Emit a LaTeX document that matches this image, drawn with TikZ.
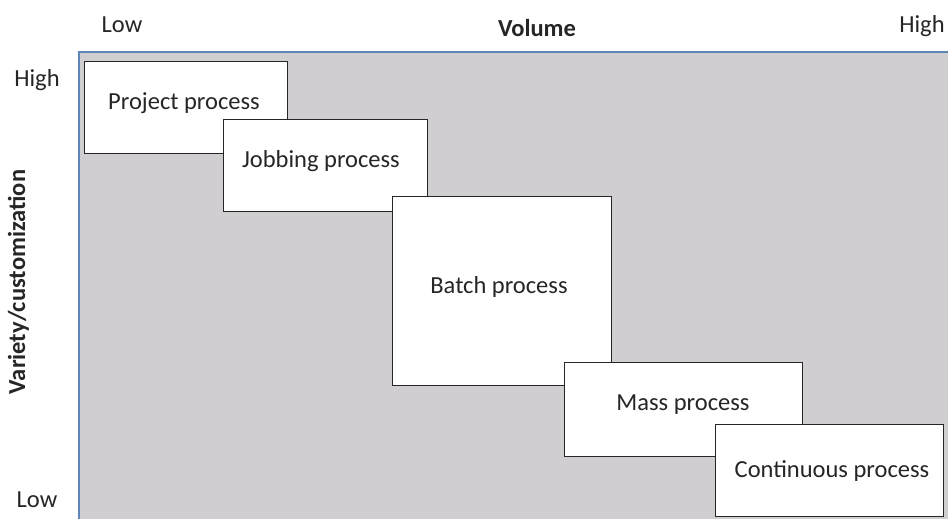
\documentclass[tikz,border=0pt]{standalone}
\usepackage{fontspec}
\setmainfont{Carlito}
\begin{document}
\begin{tikzpicture}[x=1pt,y=-1pt,
  procbox/.style={draw=black!85, line width=1.4pt, fill=white, anchor=north west, inner sep=0pt},
  txt/.style={text=black!85, font=\fontsize{24.5}{29}\selectfont, anchor=base, inner sep=0pt},
  axis/.style={text=black!85, font=\fontsize{24.5}{29}\selectfont\bfseries, inner sep=0pt}]
\definecolor{panelgrey}{HTML}{D0CED0}
\definecolor{edgeblue}{HTML}{5F86B6}
\useasboundingbox (0,0) rectangle (948,519);
% shaded panel with its top and left rules
\fill[panelgrey] (79,52) rectangle (948,519);
\draw[edgeblue, line width=1.6pt] (79,519) -- (79,52) -- (948,52);
% axis captions
\node[txt] (vlow) at (122,33) {Low};
\node[axis, anchor=base] (vol) at (537,37) {Volume};
\node[txt] (vhigh) at (922,33) {High};
\node[txt] (hhigh) at (37,87) {High};
\node[txt] (hlow) at (37,507) {Low};
\node[axis, anchor=base, rotate=90] (var) at (25,282) {Variety/customization};
% process boxes, later ones overlap earlier ones
\node[procbox, minimum width=203pt, minimum height=92pt] (proj) at (84,61) {};
\node[txt] at (184,109.5) {Project process};
\node[procbox, minimum width=204pt, minimum height=92pt] (job) at (223,119) {};
\node[txt] at (321,167) {Jobbing process};
\node[procbox, minimum width=219pt, minimum height=189pt] (batch) at (392,196) {};
\node[txt] at (499,293) {Batch process};
\node[procbox, minimum width=238pt, minimum height=94pt] (mass) at (564,362) {};
\node[txt] at (683,410.5) {Mass process};
\node[procbox, minimum width=228pt, minimum height=92pt] (cont) at (715,424) {};
\node[txt] at (832,477) {Continuous process};
\end{tikzpicture}
\end{document}
